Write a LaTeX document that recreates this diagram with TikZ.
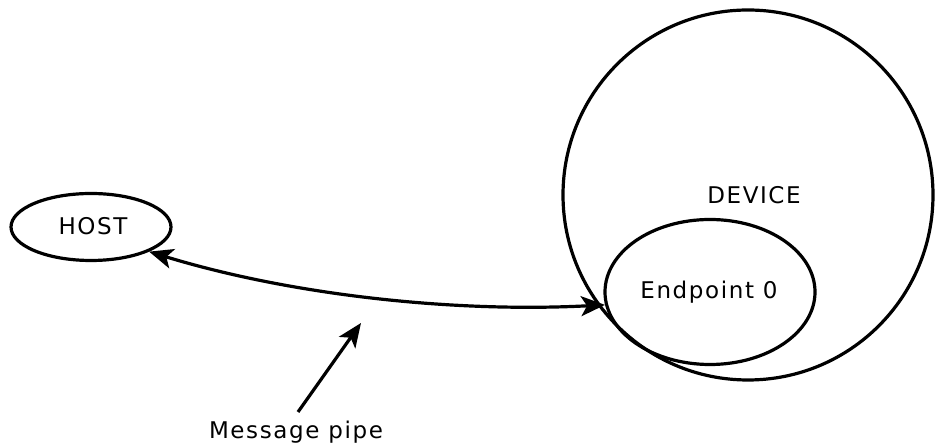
\documentclass[tikz,border=0pt]{standalone}
\usepackage{fontspec}
\setmainfont{DejaVu Sans}[LetterSpace=7]
\usetikzlibrary{arrows.meta,shapes.geometric}
\begin{document}
\begin{tikzpicture}[x=1pt,y=1pt,
  shapeline/.style={draw=black, line width=3.2pt},
  txt/.style={font=\fontsize{23}{27}\selectfont, inner sep=0pt},
  tip/.style={Stealth[length=24pt,width=20pt,inset=6pt]},
  conn/.style={line width=3.2pt, -{Stealth[length=24pt,width=20pt,inset=6pt]}},
  bothconn/.style={line width=3.2pt, {Stealth[length=24pt,width=20pt,inset=6pt]}-{Stealth[length=24pt,width=20pt,inset=6pt]}}]
  \useasboundingbox (0,0) rectangle (937,446);

  % host and device outlines
  \node[shapeline, ellipse, minimum width=160pt, minimum height=67pt, inner sep=0pt] (host) at (91,219) {};
  \node[txt] (hosttext) at (93,220) {HOST};

  \node[shapeline, circle, minimum size=370pt, inner sep=0pt] (device) at (748,251) {};
  \node[txt] (devtext) at (754,251) {DEVICE};

  \node[shapeline, ellipse, minimum width=210pt, minimum height=145pt, inner sep=0pt] (ep) at (710,154) {};
  \node[txt] (eptext) at (709,154) {Endpoint 0};

  % message pipe between host and endpoint 0
  \draw[bothconn] (host.-23) .. controls +(-17:150) and +(183:150) .. (ep.187);

  % caption with pointer to the pipe
  \node[txt] (pipetext) at (296,14) {Message pipe};
  \coordinate (pipetail) at (298,34);
  \coordinate (pipehead) at (361,123);
  \draw[conn] (pipetail) -- (pipehead);
\end{tikzpicture}
\end{document}
